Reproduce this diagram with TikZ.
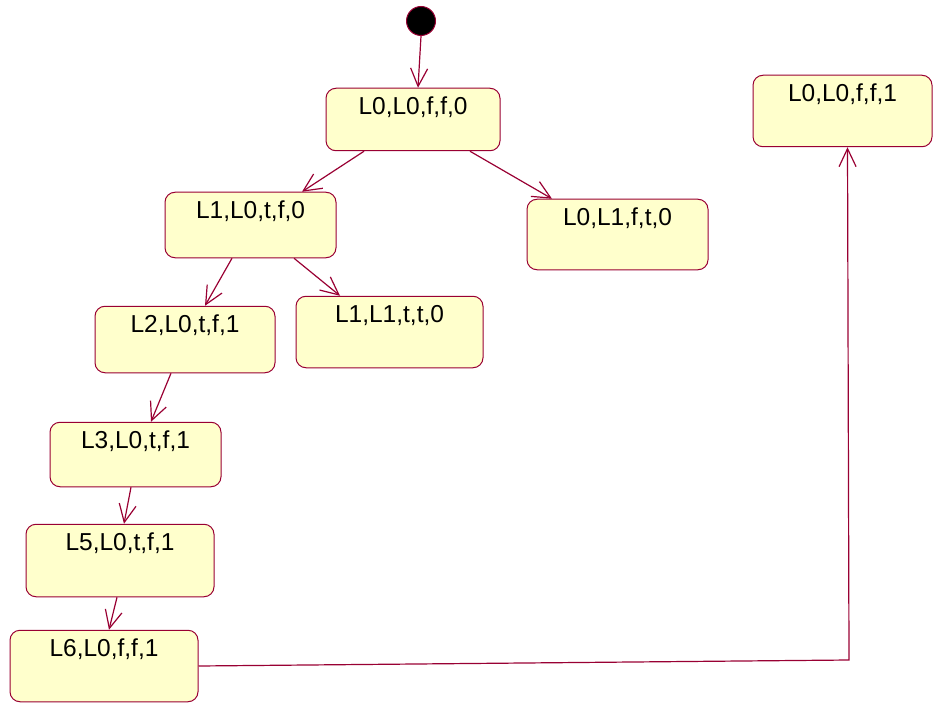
\documentclass[tikz,border=0pt]{standalone}
\usepackage{fontspec}
\setmainfont{Liberation Sans}
\usepackage{tikz}
\usetikzlibrary{arrows.meta, positioning}
\definecolor{state-draw}{RGB}{153,0,51}
\definecolor{state-fill}{RGB}{255,255,204}
\tikzset{state/.style={rectangle, rounded corners=10pt, draw=state-draw, fill=state-fill, line width=1pt, text=black, font=\fontsize{24.5pt}{28pt}\selectfont, inner xsep=0pt, inner ysep=8.5pt, text height=17.5pt, anchor=center},
         flow/.style={draw=state-draw, line width=1.2pt, -{Straight Barb[length=18pt, width=17pt]}}}

\begin{document}
\begin{tikzpicture}[x=1pt, y=-1pt]
    % Page frame
    \useasboundingbox (0,0) rectangle (933,703);

    % Initial pseudo state
    \node[circle, fill=black, draw=state-draw, line width=1pt, minimum size=29pt, inner sep=0pt] (init) at (421,21) {};

    % States - text sits near the top of each box
    \node[state, minimum width=174pt, text depth=28pt] (s0) at (413,119.5) {L0,L0,f,f,0};
    \node[state, minimum width=171pt, text depth=31pt] (s1) at (250.5,225) {L1,L0,t,f,0};
    \node[state, minimum width=181pt, text depth=36pt] (s2) at (617.5,234.5) {L0,L1,f,t,0};
    \node[state, minimum width=180pt, text depth=32pt] (s3) at (185,339.5) {L2,L0,t,f,1};
    \node[state, minimum width=187pt, text depth=37pt] (s4) at (389.5,332) {L1,L1,t,t,0};
    \node[state, minimum width=171pt, text depth=30pt] (s5) at (135.5,454.5) {L3,L0,t,f,1};
    \node[state, minimum width=188pt, text depth=38pt] (s6) at (120,560.5) {L5,L0,t,f,1};
    \node[state, minimum width=188pt, text depth=37pt] (s7) at (104,666) {L6,L0,f,f,1};
    \node[state, minimum width=179pt, text depth=37pt] (s8) at (842.5,111) {L0,L0,f,f,1};

    % Transitions
    \draw[flow] (init.south) -- ([xshift=5pt]s0.north);
    \draw[flow] ([xshift=-49pt]s0.south) -- ([xshift=51.5pt]s1.north);
    \draw[flow] ([xshift=57pt]s0.south) -- ([xshift=-65.5pt]s2.north);
    \draw[flow] ([xshift=-18.5pt]s1.south) -- ([xshift=20pt]s3.north);
    \draw[flow] ([xshift=43.5pt]s1.south) -- ([xshift=-49.5pt]s4.north);
    \draw[flow] ([xshift=-14pt]s3.south) -- ([xshift=15.5pt]s5.north);
    \draw[flow] ([xshift=-4.5pt]s5.south) -- ([xshift=4pt]s6.north);
    \draw[flow] ([xshift=-3pt]s6.south) -- ([xshift=5pt]s7.north);

    % Long way round to the last state
    \coordinate (turn) at (849,660);
    \draw[flow] (s7.east) -- (turn) -- ([xshift=5pt]s8.south);
\end{tikzpicture}
\end{document}
